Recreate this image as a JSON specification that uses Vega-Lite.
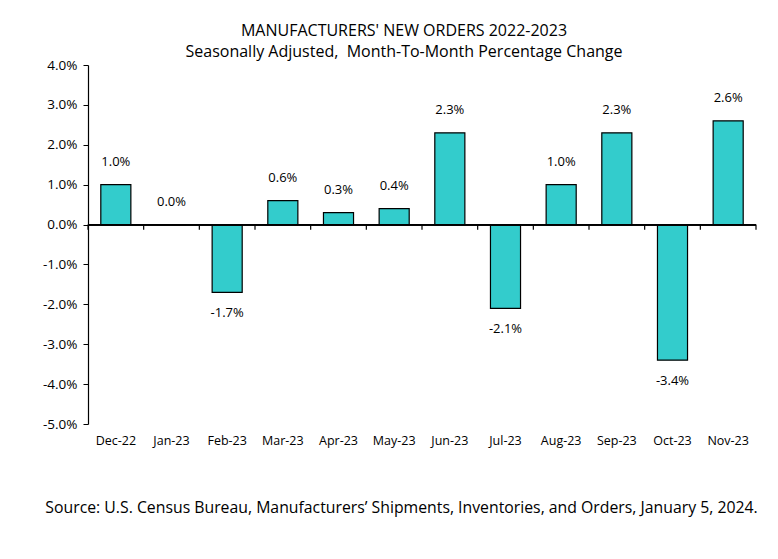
{
  "$schema": "https://vega.github.io/schema/vega-lite/v6.json",
  "width": 668,
  "height": 359,
  "autosize": {"type": "none"},
  "padding": {"left": 88, "top": 65, "right": 22, "bottom": 135},
  "background": "white",
  "title": {
    "text": "MANUFACTURERS' NEW ORDERS 2022-2023",
    "subtitle": "Seasonally Adjusted,\u00a0 Month-To-Month Percentage Change",
    "anchor": "middle",
    "dx": -18,
    "offset": -2,
    "font": "Open Sans",
    "fontSize": 16,
    "fontWeight": "normal",
    "color": "black",
    "subtitleFont": "Open Sans",
    "subtitleFontSize": 16,
    "subtitleColor": "black",
    "subtitlePadding": 5
  },
  "data": {
    "values": [
      {"month": "Dec-22", "change": 0.010},
      {"month": "Jan-23", "change": 0.000},
      {"month": "Feb-23", "change": -0.017},
      {"month": "Mar-23", "change": 0.006},
      {"month": "Apr-23", "change": 0.003},
      {"month": "May-23", "change": 0.004},
      {"month": "Jun-23", "change": 0.023},
      {"month": "Jul-23", "change": -0.021},
      {"month": "Aug-23", "change": 0.010},
      {"month": "Sep-23", "change": 0.023},
      {"month": "Oct-23", "change": -0.034},
      {"month": "Nov-23", "change": 0.026}
    ]
  },
  "transform": [
    {"calculate": "replace(format(datum.change, '.1%'), '\u2212', '-')", "as": "label"}
  ],
  "encoding": {
    "x": {
      "field": "month",
      "type": "ordinal",
      "sort": null,
      "scale": {"paddingInner": 0, "paddingOuter": 0},
      "axis": {
        "orient": "bottom",
        "domain": false,
        "ticks": false,
        "labelAngle": 0,
        "labelFont": "Open Sans",
        "labelFontSize": 12.5,
        "labelColor": "black",
        "labelPadding": 10,
        "title": "Source: U.S. Census Bureau, Manufacturers’ Shipments, Inventories, and Orders, January 5, 2024.",
        "titleFont": "Open Sans",
        "titleFontSize": 15.8,
        "titleFontWeight": "normal",
        "titleColor": "black",
        "titlePadding": 54,
        "titleX": 313
      }
    },
    "y": {
      "field": "change",
      "type": "quantitative",
      "scale": {"domain": [-0.05, 0.04], "nice": false},
      "axis": {
        "values": [-0.05, -0.04, -0.03, -0.02, -0.01, 0, 0.01, 0.02, 0.03, 0.04],
        "labelExpr": "replace(format(datum.value, '.1%'), '\u2212', '-')",
        "labelOverlap": false,
        "labelBound": false,
        "grid": false,
        "domainColor": "black",
        "domainWidth": 1.2,
        "tickColor": "black",
        "tickSize": 5,
        "labelFont": "Open Sans",
        "labelFontSize": 13.5,
        "labelColor": "black",
        "labelPadding": 6,
        "title": null
      }
    }
  },
  "layer": [
    {
      "mark": {"type": "bar", "fill": "#33CCCC", "stroke": "black", "strokeWidth": 1.2, "width": {"band": 0.54}}
    },
    {
      "mark": {"type": "rule", "color": "black", "strokeWidth": 1.2},
      "encoding": {"x": null, "y": {"datum": 0}}
    },
    {
      "mark": {"type": "rule", "color": "black", "strokeWidth": 1.2},
      "encoding": {
        "x": {"field": "month", "type": "ordinal", "sort": null, "bandPosition": 0},
        "y": {"datum": 0},
        "y2": {"datum": -0.0013}
      }
    },
    {
      "transform": [{"filter": "datum.month === 'Nov-23'"}],
      "mark": {"type": "rule", "color": "black", "strokeWidth": 1.2},
      "encoding": {
        "x": {"field": "month", "type": "ordinal", "sort": null, "bandPosition": 1},
        "y": {"datum": 0},
        "y2": {"datum": -0.0013}
      }
    },
    {
      "transform": [{"filter": "datum.change >= 0"}],
      "mark": {"type": "text", "baseline": "bottom", "dy": -16, "font": "Open Sans", "fontSize": 13, "color": "black"},
      "encoding": {"text": {"field": "label"}}
    },
    {
      "transform": [{"filter": "datum.change < 0"}],
      "mark": {"type": "text", "baseline": "top", "dy": 15, "font": "Open Sans", "fontSize": 13, "color": "black"},
      "encoding": {"text": {"field": "label"}}
    }
  ],
  "config": {"view": {"stroke": null}, "axis": {"labelOverlap": false}}
}
